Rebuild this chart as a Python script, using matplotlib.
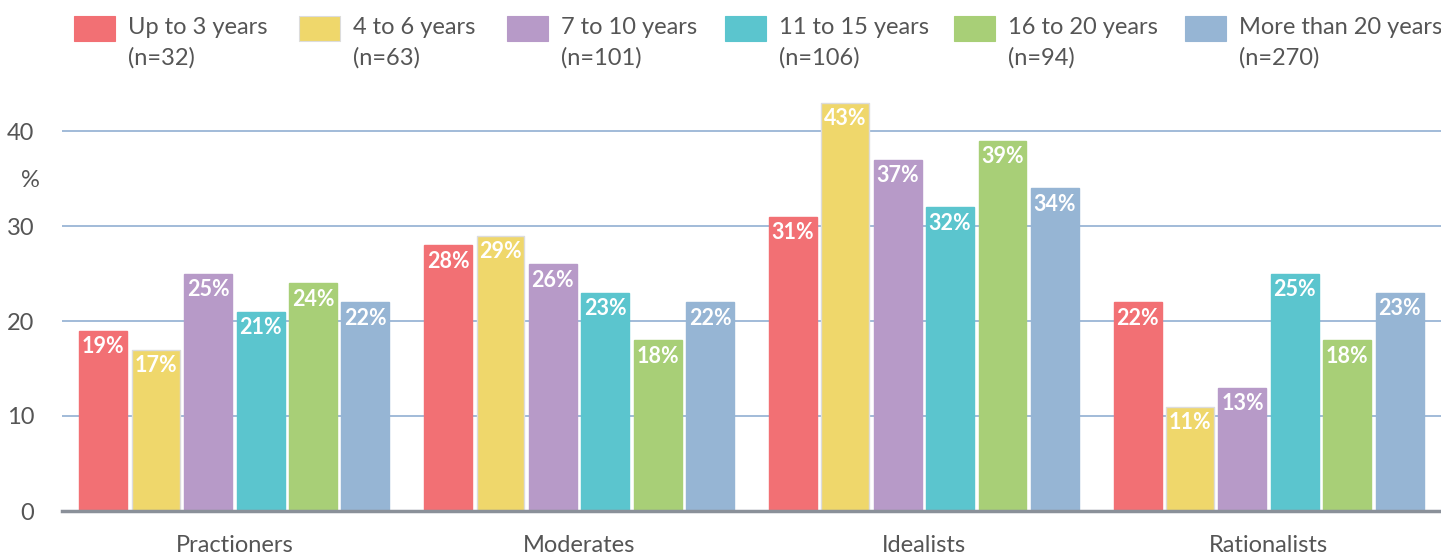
import matplotlib.pyplot as plt
from matplotlib.patches import Rectangle
import numpy as np

plt.rcParams['font.family'] = ['Lato', 'DejaVu Sans']

# data
groups = ['Practioners', 'Moderates', 'Idealists', 'Rationalists']
series = ['Up to 3 years', '4 to 6 years', '7 to 10 years',
          '11 to 15 years', '16 to 20 years', 'More than 20 years']
counts = ['(n=32)', '(n=63)', '(n=101)', '(n=106)', '(n=94)', '(n=270)']
values = [
    [19, 28, 31, 22],
    [17, 29, 43, 11],
    [25, 26, 37, 13],
    [21, 23, 32, 25],
    [24, 18, 39, 18],
    [22, 22, 34, 23],
]
colors = ['#F27074', '#EFD76B', '#B79AC8', '#5BC5CE', '#A8CF77', '#96B5D4']
grey = '#555555'

W, H = 1441, 556
fig = plt.figure(figsize=(W / 100, H / 100), dpi=100)
ax = fig.add_axes([62 / W, 45 / H, 1 - 62 / W, 418 / H])

x = np.arange(len(groups))
slot = 0.152
bw = 0.139
for i, (vals, c) in enumerate(zip(values, colors)):
    pos = x + (i - 2.5) * slot
    edge = '#dcdcdc' if i == 1 else c
    bars = ax.bar(pos, vals, width=bw, color=c, edgecolor=edge,
                  linewidth=1, zorder=3)
    for b, v in zip(bars, vals):
        ax.annotate(f'{v}%', (b.get_x() + b.get_width() / 2, v),
                    xytext=(0, -4), textcoords='offset points',
                    ha='center', va='top', color='white',
                    fontsize=15.5, fontweight='bold', zorder=4)

ax.set_xlim(-0.5, 3.5)
ax.set_ylim(0, 44)
ax.set_yticks([0, 10, 20, 30, 40])
ax.set_xticks(x)
ax.set_xticklabels(groups)
ax.grid(axis='y', color='#9AB5D6', linewidth=1.3, zorder=0)
ax.tick_params(axis='both', length=0, labelsize=17, colors=grey)
ax.tick_params(axis='y', pad=20)
ax.tick_params(axis='x', pad=17)
for s in ['top', 'right', 'left']:
    ax.spines[s].set_visible(False)
ax.spines['bottom'].set_color('#8A9099')
ax.spines['bottom'].set_linewidth(2.5)
ax.spines['bottom'].set_zorder(5)

# "%" unit under 40
ax.text(-0.5 - 22 / 345, 34.8, '%', ha='right', va='center',
        fontsize=17, color=grey)

# legend drawn by hand
sq_x = [74, 299, 507, 725, 954, 1185]
for sx, c, lab, n in zip(sq_x, colors, series, counts):
    fig.add_artist(Rectangle((sx / W, 1 - 41 / H), 41 / W, 25 / H,
                             transform=fig.transFigure, facecolor=c,
                             edgecolor='#dcdcdc' if c == '#EFD76B' else c,
                             linewidth=0.8))
    fig.text((sx + 54) / W, 1 - 27 / H, lab, ha='left', va='center',
             fontsize=17, color=grey)
    fig.text((sx + 54) / W, 1 - 58 / H, n, ha='left', va='center',
             fontsize=17, color=grey)

fig.savefig('out.png', dpi=100)
